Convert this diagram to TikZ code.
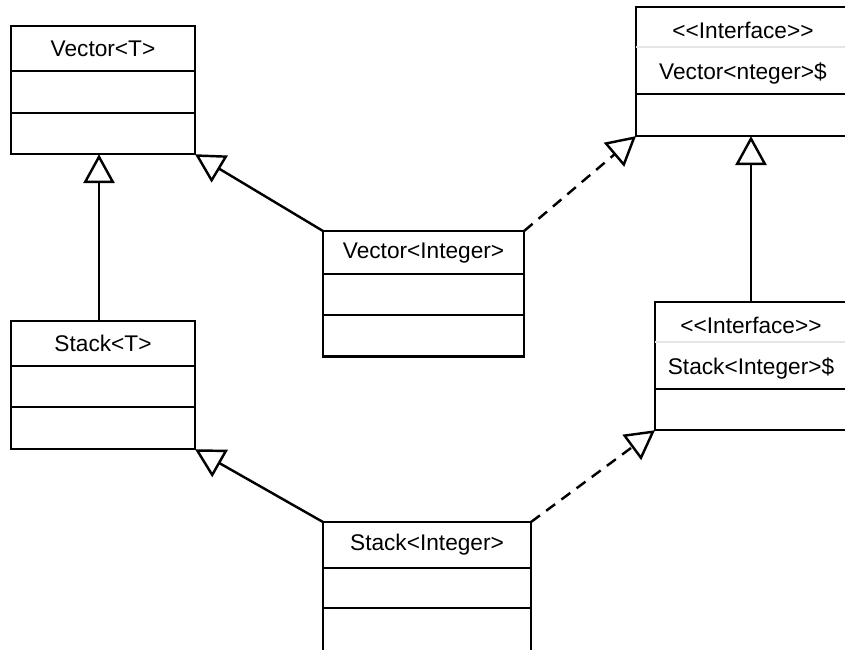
\documentclass[tikz,border=0pt]{standalone}
\usepackage{fontspec}
\setmainfont{Liberation Sans}
\usetikzlibrary{positioning,arrows.meta}

\tikzset{
  cell/.style={draw, line width=1.1pt, inner sep=0pt, outer sep=0pt, font=\fontsize{10.2}{12}\selectfont},
  head/.style={cell, draw=none, text depth=2.1pt},
  inherit/.style={line width=1.1pt, -{Triangle[open,length=13pt,width=14pt]}},
  realize/.style={inherit, dash pattern=on 5pt off 3.5pt}
}

\begin{document}
\begin{tikzpicture}[x=0.45pt, y=-0.45pt]
\useasboundingbox (0,0) rectangle (845,649);

% Vector<T>
\node(vt) [cell, anchor=north west, minimum width=82.8pt, minimum height=20.3pt] at (11,26) {Vector<T>};
\node(vt1) [cell, below=0pt of vt, minimum width=82.8pt, minimum height=18.9pt] {};
\node(vt2) [cell, below=0pt of vt1, minimum width=82.8pt, minimum height=18.5pt] {};

% Stack<T>
\node(st) [cell, anchor=north west, minimum width=82.8pt, minimum height=20.3pt] at (11,321) {Stack<T>};
\node(st1) [cell, below=0pt of st, minimum width=82.8pt, minimum height=18.5pt] {};
\node(st2) [cell, below=0pt of st1, minimum width=82.8pt, minimum height=18.9pt] {};

% Vector<Integer>
\node(vi) [cell, anchor=north west, minimum width=90.5pt, minimum height=19.4pt] at (323,231) {Vector<Integer>};
\node(vi1) [cell, below=0pt of vi, minimum width=90.5pt, minimum height=18.5pt] {};
\node(vi2) [cell, below=0pt of vi1, minimum width=90.5pt, minimum height=18.5pt] {};

% Stack<Integer>
\node(si) [cell, anchor=north west, minimum width=93.6pt, minimum height=20.7pt] at (323,522) {Stack<Integer>};
\node(si1) [cell, below=0pt of si, minimum width=93.6pt, minimum height=18pt] {};
\node(si2) [cell, below=0pt of si1, minimum width=93.6pt, minimum height=27pt] {};

% interface Vector
\node(iv0) [head, anchor=north west, minimum width=96.3pt, minimum height=18pt, text height=12.6pt] at (636,7) {<{}<Interface>{}>};
\node(iv1) [head, below=0pt of iv0, minimum width=96.3pt, minimum height=21.2pt, text height=10.4pt] {Vector<nteger>\$};
\node(iv2) [cell, below=0pt of iv1, minimum width=96.3pt, minimum height=18.9pt] {};
\draw[line width=1.1pt] (iv0.north west) rectangle (iv1.south east);
\draw[gray!20, line width=0.5pt] (iv0.south west) -- (iv0.south east);

% interface Stack
\node(is0) [head, anchor=north west, minimum width=86.4pt, minimum height=18pt, text height=12.6pt] at (655,302) {<{}<Interface>{}>};
\node(is1) [head, below=0pt of is0, minimum width=86.4pt, minimum height=21.2pt, text height=10.4pt] {Stack<Integer>\$};
\node(is2) [cell, below=0pt of is1, minimum width=86.4pt, minimum height=18.5pt] {};
\draw[line width=1.1pt] (is0.north west) rectangle (is1.south east);
\draw[gray!20, line width=0.5pt] (is0.south west) -- (is0.south east);

% connectors
\draw[inherit] ([xshift=-1.8pt]st.north) -- ([xshift=-1.8pt]vt2.south);
\draw[inherit] (vi.north west) -- (vt2.south east);
\draw[realize] (vi.north east) -- (iv2.south west);
\draw[inherit] (is0.north) -- (is0.north |- iv2.south);
\draw[inherit] (si.north west) -- (st2.south east);
\draw[realize] (si.north east) -- (is2.south west);
\end{tikzpicture}
\end{document}
